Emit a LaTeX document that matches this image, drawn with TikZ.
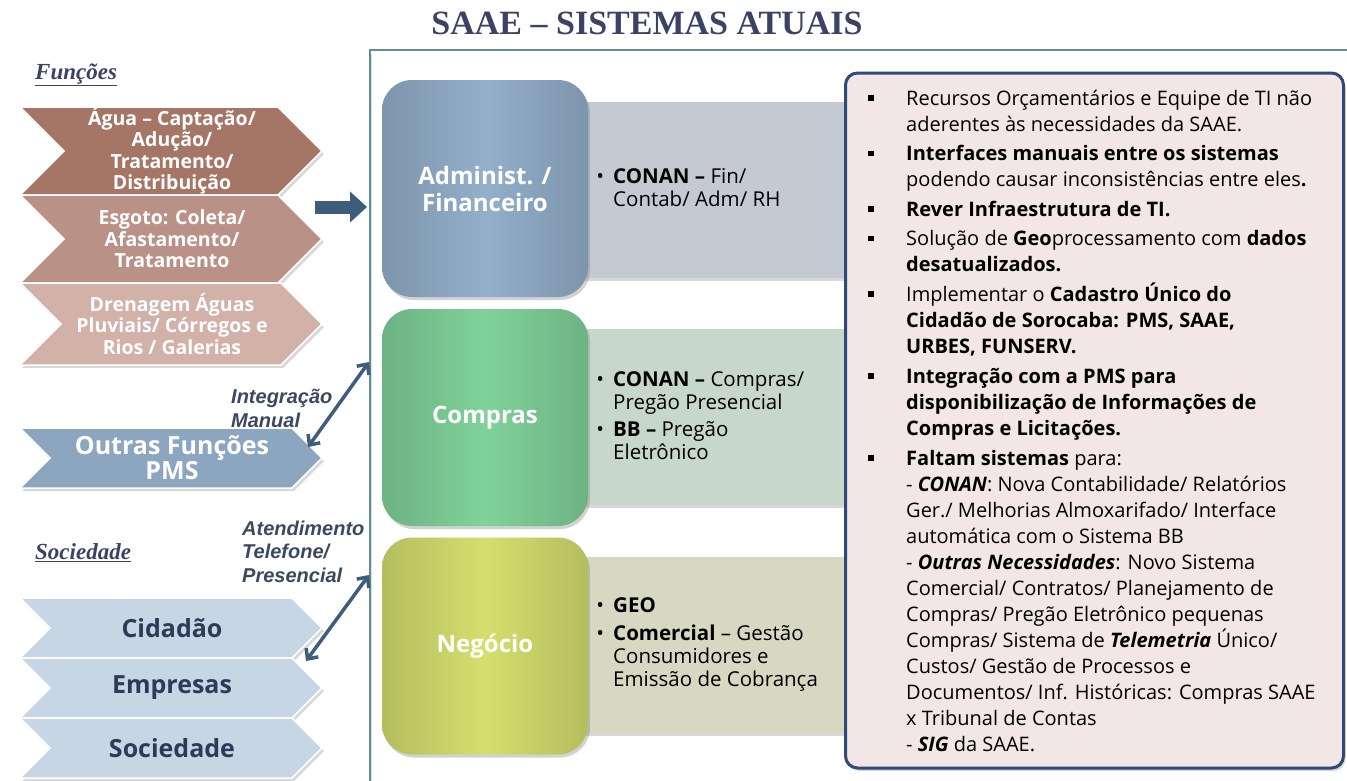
\documentclass[tikz,border=0pt]{standalone}
\usepackage{fontspec}
\setmainfont{Liberation Serif}
\setsansfont{Open Sans}
\newfontfamily\arialfont{Liberation Sans}
\usetikzlibrary{positioning,shadows,arrows.meta}

\definecolor{titlecol}{HTML}{3A4365}
\definecolor{framecol}{HTML}{5E8E98}
\definecolor{arrowcol}{HTML}{3E5C7C}
\definecolor{labelcol}{HTML}{3A4862}
\definecolor{aguacol}{HTML}{A57565}
\definecolor{esgotocol}{HTML}{BA9186}
\definecolor{drencol}{HTML}{D2B1A9}
\definecolor{outrascol}{HTML}{8DA6BF}
\definecolor{soccol}{HTML}{C6D6E4}
\definecolor{soctext}{HTML}{2F3A57}
\definecolor{admcol}{HTML}{93AFCA}
\definecolor{compcol}{HTML}{80D29A}
\definecolor{negcol}{HTML}{D4DF6E}
\definecolor{admbg}{HTML}{C5CAD2}
\definecolor{compbg}{HTML}{C7D8CB}
\definecolor{negbg}{HTML}{D6D8C1}
\definecolor{notebg}{HTML}{F2E6E6}
\definecolor{noteline}{HTML}{2D4A78}

\tikzset{
  chevshape/.style={draw=white, line width=1.5pt,
    drop shadow={opacity=0.3, shadow xshift=2pt, shadow yshift=-3pt}},
  chevtext/.style={font=\sffamily\bfseries, align=center, inner sep=0pt},
  sysbox/.style={rounded corners=30pt, minimum width=206pt, minimum height=217pt,
    text=white, font=\sffamily\bfseries\fontsize{24}{27}\selectfont, align=center,
    left color=#1!85!black, right color=#1!85!black, middle color=#1,
    drop shadow={opacity=0.35, shadow xshift=2pt, shadow yshift=-3pt}},
  sysbg/.style={minimum width=285pt, minimum height=176pt,
    drop shadow={opacity=0.3, shadow xshift=2pt, shadow yshift=-3pt}},
  systext/.style={anchor=west, align=left, inner sep=0pt,
    font=\sffamily\fontsize{20.5}{23}\selectfont},
  sidelabel/.style={anchor=west, align=left, inner sep=0pt, text=labelcol,
    font=\arialfont\bfseries\itshape\fontsize{20}{23.5}\selectfont},
  grouplabel/.style={anchor=west, inner sep=0pt, text=titlecol,
    font=\rmfamily\bfseries\itshape\fontsize{23}{26}\selectfont},
  dblarrow/.style={arrowcol, line width=3.5pt,
    {Straight Barb[length=8pt,width=15pt]}-{Straight Barb[length=8pt,width=15pt]}}
}

% chevron: name, top, bottom, fill, node options, text
\newcommand{\chevbox}[6]{%
  \pgfmathsetmacro{\chevmid}{(#2+#3)/2}%
  \pgfmathsetmacro{\chevdep}{(#3-#2)/2}%
  \filldraw[fill=#4, chevshape] (20,#2) -- ({322-\chevdep},#2) -- (322,\chevmid)
    -- ({322-\chevdep},#3) -- (20,#3) -- ({20+\chevdep},\chevmid) -- cycle;
  \node[chevtext, #5] (#1) at (172,\chevmid) {#6};}

\newcommand{\sqb}{\llap{\raisebox{4.5pt}{\rule{5.5pt}{5.5pt}}\hspace{32.5pt}}}
\newcommand{\dotb}{\llap{\textbullet\hspace{9pt}}}

\begin{document}
\begin{tikzpicture}[x=1pt,y=-1pt]
  \useasboundingbox (0,0) rectangle (1347,780);
  \fill[white] (0,0) rectangle (1347,780);

  % Title
  \node[text=titlecol, font=\rmfamily\bfseries\fontsize{34}{40}\selectfont] (title) at (647,23)
    {SAAE -- SISTEMAS ATUAIS};

  % Frame
  \draw[framecol, line width=2.5pt,
    drop shadow={opacity=0.25, shadow xshift=0pt, shadow yshift=-4pt}]
    (370,50) rectangle (1360,790);
  \fill[white] (371.5,51.5) rectangle (1358,788);

  % Funcoes
  \node[grouplabel] (funcoes) at (35,75) {\underline{Funções}};
  \chevbox{agua}{107}{195}{aguacol}{text=white, font=\sffamily\bfseries\fontsize{19.5}{21.5}\selectfont}
    {Água -- Captação/\\Adução/\\Tratamento/\\Distribuição}
  \chevbox{esgoto}{195}{283}{esgotocol}{text=white, font=\sffamily\bfseries\fontsize{19.5}{21.5}\selectfont}
    {Esgoto: Coleta/\\Afastamento/\\Tratamento}
  \chevbox{dren}{283}{365}{drencol}{text=white, font=\sffamily\bfseries\fontsize{19.5}{21.5}\selectfont}
    {Drenagem Águas\\Pluviais/ Córregos e\\Rios / Galerias}

  % Outras funcoes
  \node[sidelabel] (intlbl) at (231,408.5) {Integração\\Manual};
  \chevbox{outras}{428}{488}{outrascol}{text=white, font=\sffamily\bfseries\fontsize{25}{25}\selectfont}
    {Outras Funções\\PMS}

  % Sociedade
  \node[grouplabel] (socied) at (35,553) {\underline{Sociedade}};
  \node[sidelabel] (atdlbl) at (242,551.5) {Atendimento\\Telefone/\\Presencial};
  \chevbox{cidadao}{598}{658}{soccol}{text=soctext, font=\sffamily\bfseries\fontsize{25}{25}\selectfont}
    {Cidadão}
  \chevbox{empresas}{658}{718}{soccol}{text=soctext, font=\sffamily\bfseries\fontsize{25}{25}\selectfont}
    {Empresas}
  \chevbox{sociedade}{718}{778}{soccol}{text=soctext, font=\sffamily\bfseries\fontsize{25}{25}\selectfont}
    {Sociedade}

  % Connectors
  \coordinate (blkA) at (315,207);
  \coordinate (blkB) at (367,207);
  \draw[arrowcol, line width=13pt, -{Triangle[length=17pt,width=30pt]}] (blkA) -- (blkB);
  \coordinate (intA) at (308,447);
  \coordinate (intB) at (369,362);
  \draw[dblarrow] (intA) -- (intB);
  \coordinate (atdA) at (306,661);
  \coordinate (atdB) at (369,575);
  \draw[dblarrow] (atdA) -- (atdB);

  % Systems
  \node[sysbg, fill=admbg] (admbg) at (702.5,189.5) {};
  \node[sysbg, fill=compbg] (compbg) at (702.5,417) {};
  \node[sysbg, fill=negbg] (negbg) at (702.5,645) {};
  \node[sysbox=admcol] (adm) at (485,188.5) {Administ. /\\Financeiro};
  \node[sysbox=compcol] (comp) at (485,417.5) {Compras};
  \node[sysbox=negcol] (neg) at (485,646) {Negócio};
  \node[systext] (admlist) at (613,188)
    {\dotb\textbf{CONAN --} Fin/\\Contab/ Adm/ RH};
  \node[systext] (complist) at (613,416)
    {\dotb\textbf{CONAN --} Compras/\\Pregão Presencial\\[4pt]\dotb\textbf{BB --} Pregão\\Eletrônico};
  \node[systext] (neglist) at (613,645)
    {\dotb\textbf{GEO}\\[5pt]\dotb\textbf{Comercial} -- Gestão\\Consumidores e\\Emissão de Cobrança};

  % Notes
  \node[draw=noteline, fill=notebg, line width=3pt, rounded corners=12pt,
    minimum width=498pt, minimum height=695pt,
    drop shadow={opacity=0.3, shadow xshift=2pt, shadow yshift=-3pt}] (notes) at (1094.5,420.5) {};
  \node[anchor=north west, align=left, inner sep=0pt,
    font=\sffamily\fontsize{20}{26}\selectfont] (notelist) at (906,89.5)
    {\sqb Recursos Orçamentários e Equipe de TI não\\
     aderentes às necessidades da SAAE.\\[3.5pt]
     \sqb\textbf{Interfaces manuais entre os sistemas}\\
     podendo causar inconsistências entre eles\textbf{.}\\[3.5pt]
     \sqb\textbf{Rever Infraestrutura de TI.}\\[3.5pt]
     \sqb Solução de \textbf{Geo}processamento com \textbf{dados}\\
     \textbf{desatualizados.}\\[3.5pt]
     \sqb Implementar o \textbf{Cadastro Único do}\\
     \textbf{Cidadão de Sorocaba: PMS, SAAE,}\\
     \textbf{URBES, FUNSERV.}\\[4pt]
     \sqb\textbf{Integração com a PMS para}\\
     \textbf{disponibilização de Informações de}\\
     \textbf{Compras e Licitações.}\\[4pt]
     \sqb\textbf{Faltam sistemas} para:\\
     - \textbf{\textit{CONAN}}: Nova Contabilidade/ Relatórios\\
     Ger./ Melhorias Almoxarifado/ Interface\\
     automática com o Sistema BB\\
     - \textbf{\textit{Outras Necessidades}}: Novo Sistema\\
     Comercial/ Contratos/ Planejamento de\\
     Compras/ Pregão Eletrônico pequenas\\
     Compras/ Sistema de \textbf{\textit{Telemetria}} Único/\\
     Custos/ Gestão de Processos e\\
     Documentos/ Inf. Históricas: Compras SAAE\\
     x Tribunal de Contas\\
     - \textbf{\textit{SIG}} da SAAE.};
\end{tikzpicture}
\end{document}
